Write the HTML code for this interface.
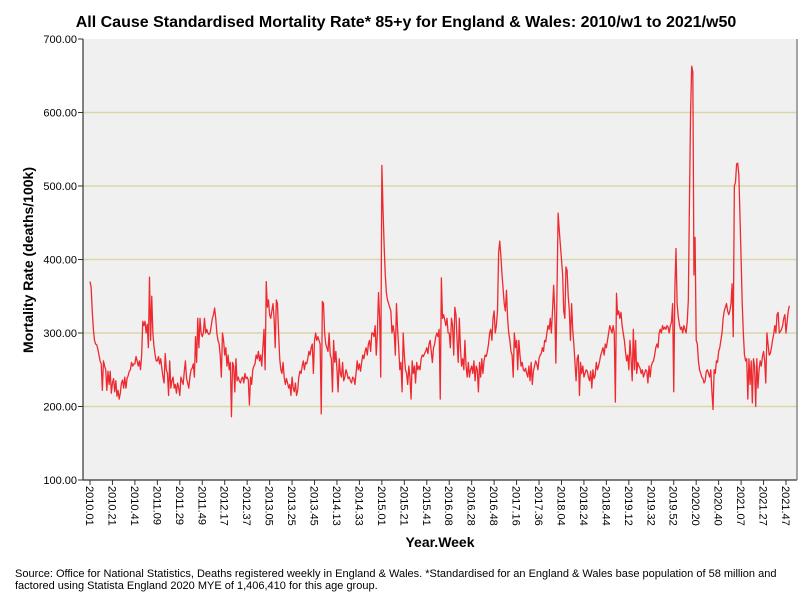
<!DOCTYPE html>
<html><head><meta charset="utf-8"><style>
body{margin:0;background:#fff;}
svg{display:block;font-family:"Liberation Sans",Arial,sans-serif;}
</style></head><body>
<svg id="chart" width="808" height="601" viewBox="0 0 808 601">
<rect x="0" y="0" width="808" height="601" fill="#fff"/>
<text x="406" y="27" text-anchor="middle" font-size="16" font-weight="bold" fill="#000">All Cause Standardised Mortality Rate* 85+y for England &amp; Wales: 2010/w1 to 2021/w50</text>
<rect x="83" y="39" width="714" height="441" fill="#f0f0f0"/>
<g id="grid"></g>
<g id="yticks"></g>
<g id="xticks"></g>
<path id="series" fill="none" stroke="#ee2a30" stroke-width="1.3" stroke-linejoin="round"/>
<line x1="83" y1="39" x2="83" y2="480" stroke="#333" stroke-width="1.2"/>
<line x1="83" y1="480" x2="797" y2="480" stroke="#333" stroke-width="1.2"/>
<line x1="797" y1="39" x2="797" y2="480" stroke="#888" stroke-width="1.5"/>
<text transform="translate(33,260) rotate(-90)" text-anchor="middle" font-size="14" font-weight="bold">Mortality Rate (deaths/100k)</text>
<text x="440" y="547" text-anchor="middle" font-size="14" font-weight="bold">Year.Week</text>
<text x="15" y="577" font-size="11">Source: Office for National Statistics, Deaths registered weekly in England &amp; Wales. *Standardised for an England &amp; Wales base population of 58 million and</text>
<text x="15" y="589" font-size="11">factored using Statista England 2020 MYE of 1,406,410 for this age group.</text>
</svg>
<script>
const y2010=[370,362,330,305,290,285,284,278,270,262,258,222,262,255,250,222,248,230,248,218,232,238,220,235,214,222,210,218,232,236,225,240,225,238,242,248,250,260,255,258,258,268,262,255,262,250,270,316,310,316,300,312];
const y2011=[280,376,290,350,300,282,270,262,262,268,258,265,252,240,232,272,250,245,215,262,225,235,240,225,230,218,232,226,215,240,235,230,248,262,238,232,225,240,250,252,258,240,295,260,320,280,320,300,295,300,320,300];
const y2012=[305,300,298,300,310,320,325,334,320,300,290,285,270,240,300,290,270,280,255,270,250,260,186,260,255,220,265,235,240,235,232,238,240,232,245,238,240,236,202,240,230,250,255,258,270,265,275,262,270,255,280,305];
const y2013=[250,370,335,345,325,320,330,340,320,280,345,340,300,265,250,245,260,240,230,238,232,225,230,215,240,225,220,232,215,222,240,248,245,255,262,250,260,258,265,275,270,280,285,245,290,300,290,295,290,285,190,343];
const y2014=[340,300,285,280,275,300,270,265,220,290,260,275,250,220,265,245,240,260,235,240,250,245,238,240,235,232,240,238,230,245,262,250,258,248,260,270,265,275,280,270,285,290,275,300,300,295,310,270,300,355,320,240];
const y2015=[528,470,420,380,355,345,340,335,330,300,310,300,270,340,305,280,250,260,220,300,270,250,245,230,255,240,210,262,245,255,232,260,250,255,250,265,270,268,272,275,280,272,285,290,275,260,280,285,295,300,295,305,210];
const y2016=[375,320,325,318,310,320,300,300,280,320,310,270,335,325,290,260,320,280,255,265,250,290,255,240,260,240,250,255,245,262,235,255,250,220,260,240,265,245,262,270,268,275,285,300,305,290,320,330,300,310,330,410];
const y2017=[425,405,380,360,340,330,358,320,300,290,275,270,240,300,280,290,250,290,270,255,260,250,248,252,245,240,255,235,260,230,248,255,262,258,250,265,270,272,280,275,290,288,300,310,305,320,300,330,365,330,259,355];
const y2018=[463,440,420,400,380,330,320,390,385,350,330,290,340,305,285,260,235,265,270,215,260,245,255,240,245,250,248,240,235,248,225,250,238,242,260,250,255,262,270,275,280,270,285,280,290,300,310,305,300,310,300,206];
const y2019=[354,325,330,320,328,310,300,290,275,262,270,250,290,265,235,305,250,290,245,260,255,252,245,250,240,245,250,248,232,255,240,255,260,262,270,280,285,280,300,305,300,310,305,308,305,310,308,300,310,315,340,220];
const y2020=[360,415,340,322,312,305,308,300,310,305,300,315,345,480,600,663,655,379,430,290,285,262,250,245,240,238,232,235,248,250,245,240,250,220,196,250,245,262,260,275,280,290,300,320,330,335,340,330,325,330,340,367,295];
const y2021=[500,505,530,531,515,460,400,340,300,270,262,265,210,265,230,262,205,265,255,200,265,225,250,262,255,268,275,262,232,300,285,270,272,280,290,298,310,300,325,328,300,302,305,310,320,325,300,315,330,337];
const yTicks=[100,200,300,400,500,600,700];
const xTickLabels=["2010.01","2010.21","2010.41","2011.09","2011.29","2011.49","2012.17","2012.37","2013.05","2013.25","2013.45","2014.13","2014.33","2015.01","2015.21","2015.41","2016.08","2016.28","2016.48","2017.16","2017.36","2018.04","2018.24","2018.44","2019.12","2019.32","2019.52","2020.20","2020.40","2021.07","2021.27","2021.47"];
const tickEvery=20;

const values=[].concat(y2010,y2011,y2012,y2013,y2014,y2015,y2016,y2017,y2018,y2019,y2020,y2021);
const NS="http://www.w3.org/2000/svg";
function xScale(i){return 90+i*(696/620);}
function yScale(v){return 480-(v-100)*(441/600);}

const grid=document.getElementById('grid');
const yt=document.getElementById('yticks');
yTicks.forEach(function(v){
  const y=yScale(v);
  if(v>100&&v<700){
    const g=document.createElementNS(NS,'line');
    g.setAttribute('x1',83);g.setAttribute('x2',797);g.setAttribute('y1',y);g.setAttribute('y2',y);
    g.setAttribute('stroke','#dcd5a8');g.setAttribute('stroke-width','1.5');
    
    
    grid.appendChild(g);
  }
  const t=document.createElementNS(NS,'line');
  t.setAttribute('x1',78);t.setAttribute('x2',83);t.setAttribute('y1',y);t.setAttribute('y2',y);
  t.setAttribute('stroke','#333');
  
  
  yt.appendChild(t);
  const l=document.createElementNS(NS,'text');
  l.setAttribute('x',77);l.setAttribute('y',y+4);l.setAttribute('text-anchor','end');l.setAttribute('font-size','11');
  l.textContent=v.toFixed(2);
  
  
  yt.appendChild(l);
});

const xt=document.getElementById('xticks');
xTickLabels.forEach(function(lab,k){
  const x=xScale(k*tickEvery);
  const t=document.createElementNS(NS,'line');
  t.setAttribute('x1',x);t.setAttribute('x2',x);t.setAttribute('y1',480);t.setAttribute('y2',485);
  t.setAttribute('stroke','#333');
  
  
  xt.appendChild(t);
  const l=document.createElementNS(NS,'text');
  l.setAttribute('transform','translate('+(x-4)+',486) rotate(90)');
  l.setAttribute('font-size','11');
  l.textContent=lab;
  
  
  xt.appendChild(l);
});

let d='';
values.forEach(function(v,i){d+=(i?'L':'M')+xScale(i).toFixed(2)+','+yScale(v).toFixed(2);});
document.getElementById('series').setAttribute('d',d);
</script>
</body></html>
